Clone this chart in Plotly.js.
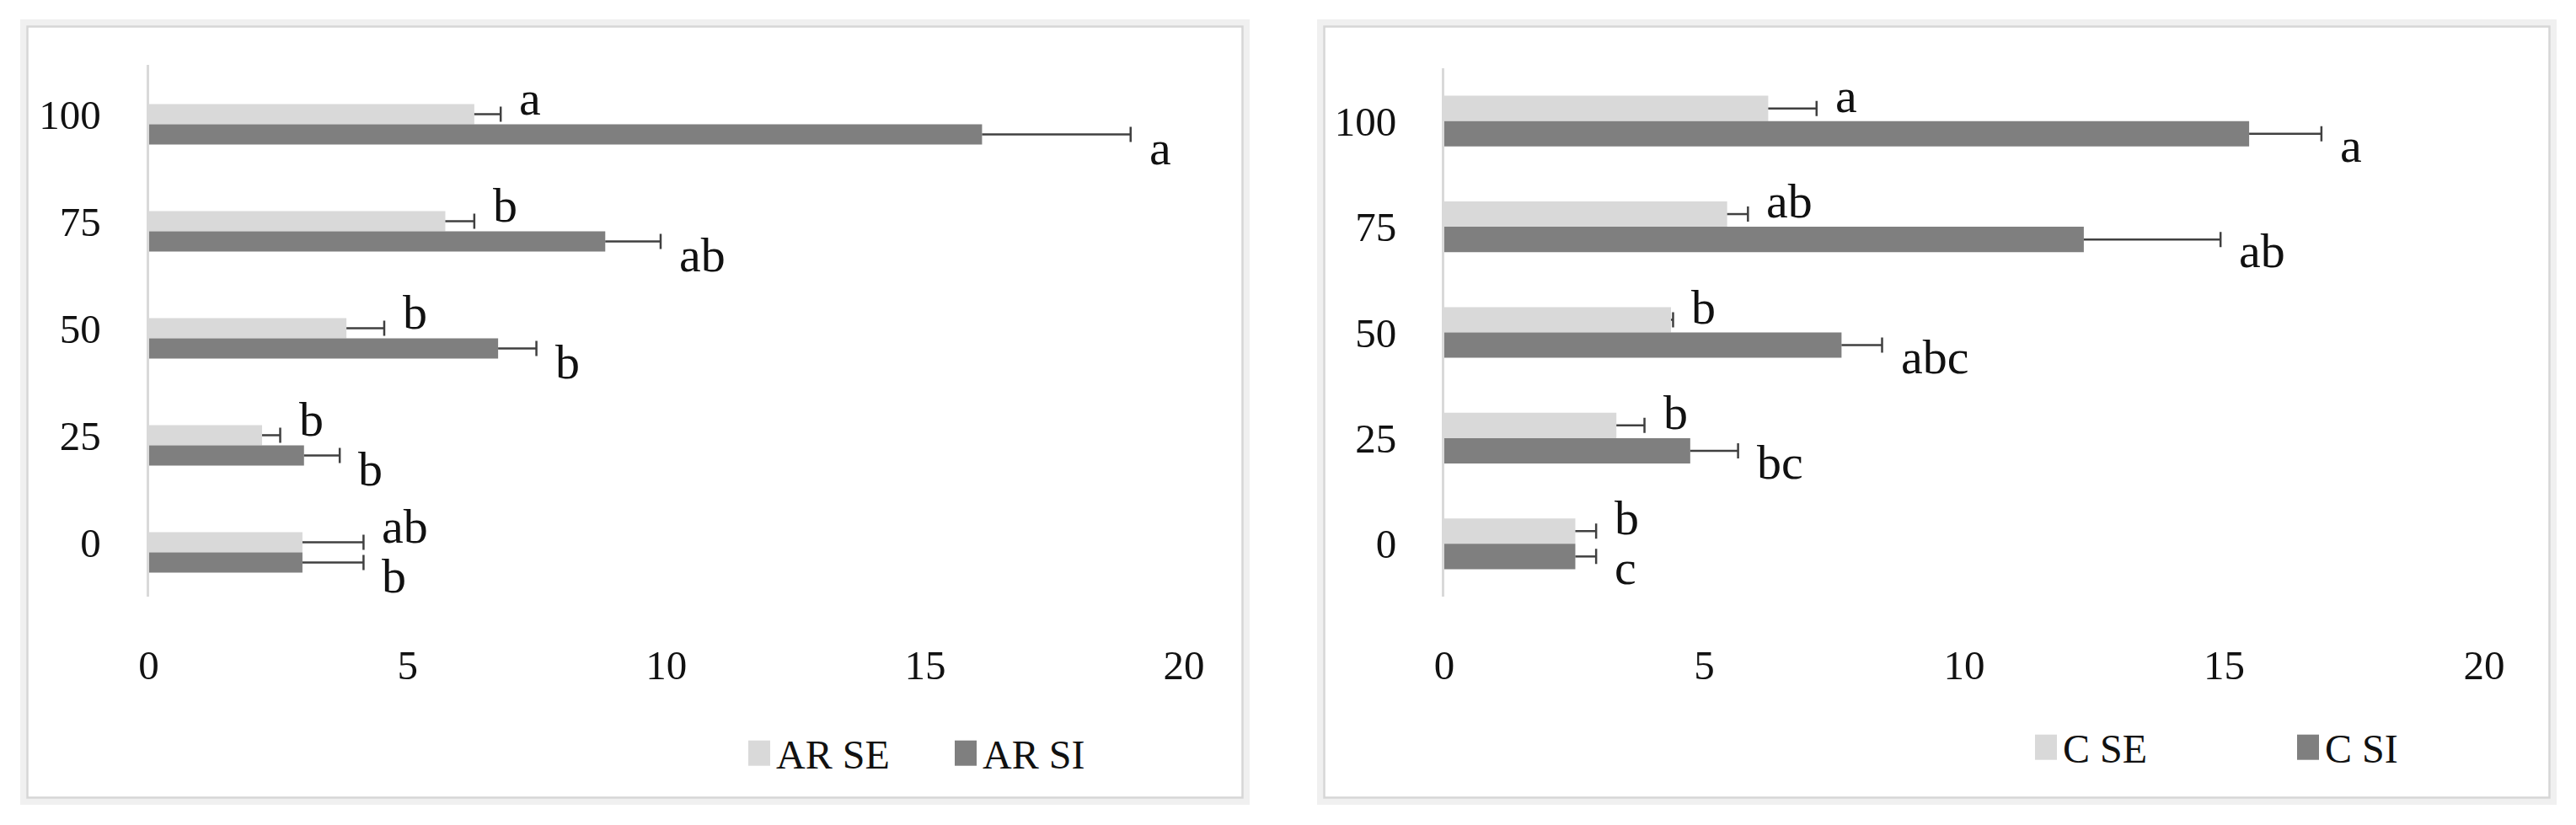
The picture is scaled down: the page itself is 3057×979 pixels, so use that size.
<!DOCTYPE html>
<html><head><meta charset="utf-8">
<script src="https://cdn.plot.ly/plotly-3.0.1.min.js"></script>
<style>html,body{margin:0;padding:0;background:#fff}#chart{width:3057px;height:979px}</style>
</head><body><div id="chart"></div>
<script>
// ---- data ----
const categories = ['0', '25', '50', '75', '100'];
const arSE = [2.97, 2.19, 3.82, 5.73, 6.29];
const arSEerr = [1.18, 0.35, 0.73, 0.56, 0.51];
const arSI = [2.97, 3.00, 6.75, 8.82, 16.10];
const arSIerr = [1.18, 0.69, 0.74, 1.07, 2.87];
const cSE = [2.52, 3.31, 4.36, 5.44, 6.23];
const cSEerr = [0.40, 0.54, 0.04, 0.40, 0.93];
const cSI = [2.52, 4.73, 7.64, 12.30, 15.48];
const cSIerr = [0.40, 0.92, 0.78, 2.63, 1.39];
const arSEletters = ['ab', 'b', 'b', 'b', 'a'];
const arSIletters = ['b', 'b', 'b', 'ab', 'a'];
const cSEletters = ['b', 'b', 'b', 'ab', 'a'];
const cSIletters = ['c', 'bc', 'abc', 'ab', 'a'];
const xTicks = [0, 5, 10, 15, 20];

// ---- style ----
const W = 3057, H = 979;
const X = px => px / W;
const Y = py => 1 - py / H;
const LIGHT = '#d9d9d9', DARK = '#7f7f7f', ERR = '#404040';
const FONT = 'Liberation Serif, Times New Roman, serif';
const TXT = '#111111';

function series(name, vals, errs, color, xa, ya, offset, width, legend) {
  const bar = {
    type: 'bar', orientation: 'h', name: name, x: vals, y: categories,
    xaxis: xa, yaxis: ya, offset: offset, width: width, legend: legend,
    marker: {color: color, line: {width: 0}},
    error_x: {type: 'data', symmetric: false, array: errs, arrayminus: errs.map(() => 0),
              width: 0, thickness: 2.5, color: ERR},
    hoverinfo: 'x+name'
  };
  const cap = {
    type: 'bar', orientation: 'h', x: vals.map((v, i) => v + errs[i]), y: categories,
    xaxis: xa, yaxis: ya, offset: offset, width: width, showlegend: false, legend: legend,
    marker: {color: 'rgba(0,0,0,0)', line: {width: 0}},
    error_x: {type: 'data', array: errs.map(() => 0), width: 9, thickness: 2.5, color: ERR},
    hoverinfo: 'skip'
  };
  return [bar, cap];
}

// letters sit just above (SE) or just below (SI) the boundary between the two bars
function letters(vals, errs, labels, xa, ya, boundary, anchor) {
  return labels.map((t, i) => ({
    xref: xa, yref: ya, x: vals[i] + errs[i], y: i + boundary, text: t,
    xanchor: 'left', yanchor: anchor, xshift: 20, yshift: anchor === 'bottom' ? -4 : 6,
    showarrow: false, font: {family: FONT, size: 58, color: TXT}
  }));
}

// left panel geometry (category units)
const LW = 0.189, LSE = -0.0945, LSI = -0.2835;
// right panel geometry
const RW = 0.24, RSE = 0.0, RSI = -0.24;

const traces = [
  ...series('AR SE', arSE, arSEerr, LIGHT, 'x', 'y', LSE, LW, 'legend'),
  ...series('AR SI', arSI, arSIerr, DARK, 'x', 'y', LSI, LW, 'legend'),
  ...series('C SE', cSE, cSEerr, LIGHT, 'x2', 'y2', RSE, RW, 'legend2'),
  ...series('C SI', cSI, cSIerr, DARK, 'x2', 'y2', RSI, RW, 'legend2')
];

const annotations = [
  ...letters(arSE, arSEerr, arSEletters, 'x', 'y', LSE, 'bottom'),
  ...letters(arSI, arSIerr, arSIletters, 'x', 'y', LSE, 'top'),
  ...letters(cSE, cSEerr, cSEletters, 'x2', 'y2', RSE, 'bottom'),
  ...letters(cSI, cSIerr, cSIletters, 'x2', 'y2', RSE, 'top')
];

function frame(x0, y0, x1, y1) {
  return [
    {type: 'rect', xref: 'paper', yref: 'paper', layer: 'below',
     x0: X(x0), x1: X(x1), y0: Y(y1), y1: Y(y0), fillcolor: '#f0f0f0', line: {width: 0}},
    {type: 'rect', xref: 'paper', yref: 'paper', layer: 'below',
     x0: X(x0 + 8.5), x1: X(x1 - 8.5), y0: Y(y1 - 8.5), y1: Y(y0 + 8.5),
     fillcolor: '#ffffff', line: {width: 2.5, color: '#d6d6d6'}}
  ];
}

const xBase = {
  range: [0, 20], tickvals: xTicks, ticks: '', showgrid: false, zeroline: false,
  showline: false, automargin: false, fixedrange: true, ticklabelstandoff: 48,
  tickfont: {family: FONT, size: 49, color: TXT}
};
const yBase = {
  type: 'category', categoryorder: 'array', categoryarray: categories,
  ticks: '', showgrid: false, zeroline: false, showline: true,
  linecolor: '#d9d9d9', linewidth: 3, automargin: false, fixedrange: true,
  ticklabelstandoff: 44, tickfont: {family: FONT, size: 49, color: TXT}
};

const legBase = {
  orientation: 'h', xanchor: 'left', yanchor: 'middle', entrywidthmode: 'pixels',
  bgcolor: 'rgba(0,0,0,0)', borderwidth: 0, itemclick: false, itemdoubleclick: false,
  font: {family: FONT, size: 48, color: TXT}
};

const layout = {
  width: W, height: H, margin: {l: 0, r: 0, t: 0, b: 0},
  paper_bgcolor: '#ffffff', plot_bgcolor: 'rgba(0,0,0,0)',
  barmode: 'overlay', showlegend: true,
  font: {family: FONT, color: TXT},
  xaxis: Object.assign({}, xBase, {domain: [X(176.5), X(1405)], anchor: 'y'}),
  yaxis: Object.assign({}, yBase, {domain: [Y(708), Y(77)], range: [-0.508, 4.46], anchor: 'x'}),
  xaxis2: Object.assign({}, xBase, {domain: [X(1714), X(2948)], anchor: 'y2'}),
  yaxis2: Object.assign({}, yBase, {domain: [Y(708), Y(81)], range: [-0.5, 4.5], anchor: 'x2'}),
  legend: Object.assign({}, legBase, {x: X(881), y: Y(894), entrywidth: 200}),
  legend2: Object.assign({}, legBase, {x: X(2408), y: Y(887), entrywidth: 266}),
  shapes: [...frame(24, 23, 1483, 955), ...frame(1563, 23, 3034, 955)],
  annotations: annotations
};

Plotly.newPlot('chart', traces, layout, {displayModeBar: false, staticPlot: true}).then(gd => {
  gd.querySelectorAll('.legendpoints path').forEach(p => p.setAttribute('d', 'M13,15H-13V-15H13Z'));
});
</script>
</body></html>
